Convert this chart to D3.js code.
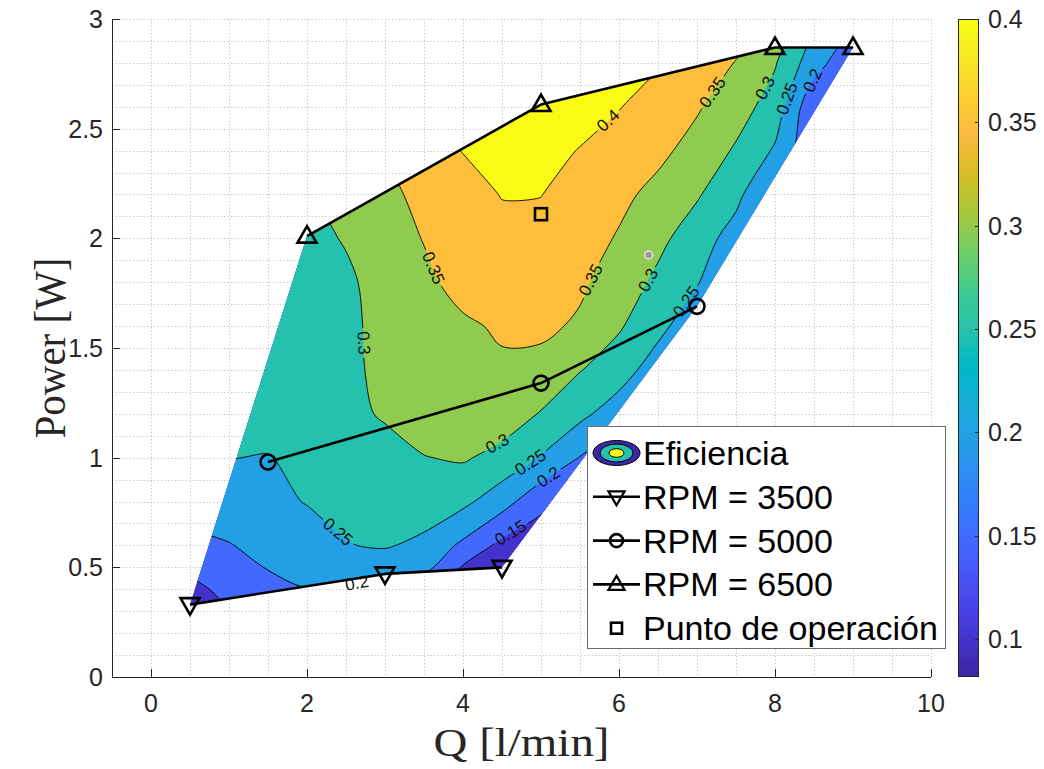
<!DOCTYPE html>
<html>
<head>
<meta charset="utf-8">
<script src="https://cdn.jsdelivr.net/npm/d3@7"></script>
<style>
  body { margin: 0; background: #ffffff; }
  svg { display: block; }
</style>
</head>
<body>
<svg id="chart" width="1044" height="769"></svg>
<script>
// ---------------- data ----------------
// Efficiency sampled on a regular (Q, Power) grid; rows go from low to high power.
const qNodes = [0, 0.5, 1, 1.5, 2, 2.5, 3, 3.5, 4, 4.5, 5, 5.5, 6, 6.5, 7, 7.5, 8, 8.5, 9, 9.5];
const powerNodes = [0.2, 0.4, 0.6, 0.8, 1.0, 1.2, 1.4, 1.6, 1.8, 2.0, 2.2, 2.4, 2.6, 2.8, 3.0];
const efficiencyGrid = [
  [0.09, 0.11, 0.13, 0.148, 0.16, 0.16, 0.15, 0.13, 0.09, 0.08, 0.08, 0.08, 0.08, 0.08, 0.08, 0.08, 0.08, 0.08, 0.08, 0.08],
  [0.11, 0.135, 0.165, 0.19, 0.199, 0.195, 0.182, 0.18, 0.101, 0.09, 0.08, 0.08, 0.08, 0.08, 0.08, 0.08, 0.08, 0.08, 0.08, 0.08],
  [0.17, 0.19, 0.198, 0.213, 0.23, 0.248, 0.255, 0.237, 0.19, 0.136, 0.12, 0.11, 0.098, 0.098, 0.098, 0.098, 0.098, 0.098, 0.098, 0.098],
  [0.205, 0.215, 0.226, 0.239, 0.252, 0.262, 0.272, 0.28, 0.262, 0.2205, 0.163, 0.12, 0.11, 0.105, 0.105, 0.105, 0.105, 0.105, 0.105, 0.105],
  [0.245, 0.248, 0.251, 0.248, 0.262, 0.274, 0.286, 0.2985, 0.305, 0.285, 0.247, 0.198, 0.16, 0.14, 0.13, 0.13, 0.13, 0.13, 0.13, 0.13],
  [0.255, 0.258, 0.263, 0.27, 0.28, 0.29, 0.304, 0.322, 0.33, 0.325, 0.297, 0.263, 0.222, 0.17, 0.14, 0.14, 0.14, 0.14, 0.14, 0.14],
  [0.258, 0.262, 0.267, 0.276, 0.285, 0.293, 0.3075, 0.325, 0.338, 0.343, 0.335, 0.302, 0.275, 0.222, 0.17, 0.155, 0.155, 0.155, 0.155, 0.155],
  [0.26, 0.264, 0.27, 0.278, 0.287, 0.294, 0.308, 0.326, 0.343, 0.356, 0.36, 0.343, 0.305, 0.266, 0.213, 0.17, 0.155, 0.155, 0.155, 0.155],
  [0.262, 0.266, 0.272, 0.28, 0.288, 0.294, 0.3135, 0.34, 0.366, 0.375, 0.372, 0.358, 0.326, 0.29, 0.254, 0.195, 0.16, 0.155, 0.155, 0.155],
  [0.265, 0.27, 0.276, 0.284, 0.29, 0.3025, 0.3275, 0.352, 0.372, 0.385, 0.385, 0.37, 0.346, 0.312, 0.275, 0.228, 0.185, 0.16, 0.155, 0.155],
  [0.268, 0.274, 0.28, 0.288, 0.296, 0.316, 0.34, 0.361, 0.38, 0.402, 0.401, 0.379, 0.361, 0.337, 0.305, 0.264, 0.19, 0.17, 0.16, 0.155],
  [0.27, 0.278, 0.286, 0.295, 0.305, 0.33, 0.352, 0.378, 0.4015, 0.41, 0.408, 0.399, 0.38, 0.361, 0.333, 0.294, 0.244, 0.152, 0.152, 0.152],
  [0.272, 0.28, 0.29, 0.3, 0.31, 0.34, 0.37, 0.399, 0.41, 0.415, 0.415, 0.41, 0.402, 0.379, 0.355, 0.322, 0.278, 0.16, 0.155, 0.152],
  [0.275, 0.285, 0.295, 0.305, 0.32, 0.352, 0.38, 0.405, 0.415, 0.42, 0.42, 0.415, 0.41, 0.404, 0.378, 0.348, 0.304, 0.221, 0.16, 0.155],
  [0.278, 0.29, 0.3, 0.31, 0.33, 0.36, 0.39, 0.41, 0.42, 0.425, 0.425, 0.42, 0.415, 0.41, 0.403, 0.375, 0.328, 0.258, 0.19, 0.17]
];

// Operating curves [Q (l/min), Power (W)]
const rpm3500 = [[0.5, 0.33], [3, 0.47], [4.5, 0.5]];
const rpm5000 = [[1.5, 0.98], [5, 1.34], [7, 1.69]];
const rpm6500 = [[2, 2.01], [5, 2.61], [8, 2.87], [9, 2.87]];
const operatingPoint = [[5, 2.11]];
const cursorPoint = [[6.38, 1.924]];

const contourLevels = [0.1, 0.15, 0.2, 0.25, 0.3, 0.35, 0.4];
// Inline contour labels: level and the approximate place along the curve
const contourLabels = [
  { level: 0.4,  q: 5.89, p: 2.526 },
  { level: 0.35, q: 7.21, p: 2.663 },
  { level: 0.3,  q: 7.92, p: 2.677 },
  { level: 0.25, q: 8.20, p: 2.631 },
  { level: 0.2,  q: 8.55, p: 2.709 },
  { level: 0.35, q: 3.56, p: 1.856 },
  { level: 0.35, q: 5.64, p: 1.810 },
  { level: 0.3,  q: 2.72, p: 1.523 },
  { level: 0.3,  q: 6.37, p: 1.810 },
  { level: 0.25, q: 6.83, p: 1.719 },
  { level: 0.3,  q: 4.45, p: 1.058 },
  { level: 0.25, q: 4.87, p: 0.976 },
  { level: 0.2,  q: 5.12, p: 0.898 },
  { level: 0.15, q: 4.61, p: 0.657 },
  { level: 0.25, q: 2.34, p: 0.638 },
  { level: 0.2,  q: 2.64, p: 0.429 }
];

const xTicks = [0, 2, 4, 6, 8, 10];
const yTicks = [0, 0.5, 1, 1.5, 2, 2.5, 3];
const colorbarTicks = [0.1, 0.15, 0.2, 0.25, 0.3, 0.35, 0.4];
const colorLimits = [0.0816, 0.4];
const legendLabels = ["Eficiencia", "RPM = 3500", "RPM = 5000", "RPM = 6500", "Punto de operación"];
const xLabel = "Q [l/min]";
const yLabel = "Power [W]";

// parula colormap, 64 entries
const parula = [
  "#3e26a8","#402ab4","#422ec0","#4332cb","#4537d5","#463cde","#4741e5","#4747eb",
  "#484df0","#4852f4","#4758f8","#465efb","#4563fd","#4269fe","#3e6fff","#3875fe",
  "#327cfc","#2f81fa","#2e87f7","#2d8cf3","#2b91ef","#2797eb","#259be8","#23a0e5",
  "#20a5e3","#1ca9df","#18addb","#12b1d6","#08b5d0","#01b8ca","#02bac3","#0bbdbd",
  "#19bfb6","#24c1ae","#2cc4a7","#31c69f","#37c897","#3fca8e","#4acb84","#57cc7a",
  "#64cd6f","#72cd64","#81cc59","#8fcb4e","#9dc943","#abc739","#b9c431","#c5c22a",
  "#d1bf27","#dcbd29","#e6bb2d","#f0ba36","#f8ba3d","#febe3c","#fec338","#fec934",
  "#fccf30","#fad62d","#f7dc2a","#f5e327","#f5e924","#f6ef20","#f7f51b","#f9fb15"
];

// ---------------- layout ----------------
const plot = { left: 112, right: 931, top: 19, bottom: 677 };
const SANS = "'Liberation Sans', Arial, Helvetica, sans-serif";
const SERIF = "'Liberation Serif', 'Times New Roman', serif";
const AXIS_COLOR = "#262626";

const x = d3.scaleLinear().domain([-0.5, 10]).range([plot.left, plot.right]);
const y = d3.scaleLinear().domain([0, 3]).range([plot.bottom, plot.top]);
const cbar = { left: 958, width: 21 };
const cy = d3.scaleLinear().domain(colorLimits).range([plot.bottom, plot.top]);

function levelColor(v) {
  const t = (v - colorLimits[0]) / (colorLimits[1] - colorLimits[0]);
  const i = Math.max(0, Math.min(parula.length - 1, Math.floor(t * parula.length)));
  return parula[i];
}

const svg = d3.select("#chart");
const defs = svg.append("defs");

// ---------------- grid ----------------
const gGrid = svg.append("g")
  .attr("stroke", "#c4c4c4").attr("stroke-width", 1).attr("stroke-dasharray", "1.3,2.2");
d3.range(-1, 21).map(i => i / 2).forEach(v => {
  const px = Math.round(x(v)) + 0.5;
  gGrid.append("line").attr("x1", px).attr("x2", px).attr("y1", plot.top).attr("y2", plot.bottom);
});
d3.range(0, 31).map(i => i / 10).forEach(v => {
  const py = Math.round(y(v)) + 0.5;
  gGrid.append("line").attr("x1", plot.left).attr("x2", plot.right).attr("y1", py).attr("y2", py);
});

// ---------------- efficiency map ----------------
// Measured region: bounded by the low-speed curve, the maximum-flow points and the high-speed curve
const domainPoints = [...rpm3500, rpm5000[rpm5000.length - 1], ...rpm6500.slice().reverse()];
const lineXY = d3.line().x(d => x(d[0])).y(d => y(d[1]));
const domainD = lineXY(domainPoints) + "Z";
defs.append("clipPath").attr("id", "domainClip").append("path").attr("d", domainD);

const nx = qNodes.length, ny = powerNodes.length;
const dq = qNodes[1] - qNodes[0], dp = powerNodes[1] - powerNodes[0];
const bands = d3.contours().size([nx, ny]).thresholds(contourLevels)(efficiencyGrid.flat());
const gridToPx = ([cx, cyy]) => [x(qNodes[0] + (cx - 0.5) * dq), y(powerNodes[0] + (cyy - 0.5) * dp)];
const ringLine = d3.line().curve(d3.curveCatmullRomClosed.alpha(0.5));

const ringsByLevel = new Map();
bands.forEach(b => {
  const rings = [];
  b.coordinates.forEach(poly => poly.forEach(ring => rings.push(ring.map(gridToPx))));
  ringsByLevel.set(b.value, rings);
});
const bandPath = value => ringsByLevel.get(value).map(r => ringLine(r.slice(0, -1))).join("");

const gMap = svg.append("g").attr("clip-path", "url(#domainClip)");
gMap.append("path").attr("d", domainD).attr("fill", levelColor(colorLimits[0]));
bands.forEach(b => {
  if (!b.coordinates.length) return;
  gMap.append("path").attr("d", bandPath(b.value))
    .attr("fill", levelColor(b.value)).attr("fill-rule", "evenodd");
});

// gaps in the contour lines behind the inline labels
const mask = defs.append("mask").attr("id", "labelGaps")
  .attr("maskUnits", "userSpaceOnUse").attr("x", 0).attr("y", 0).attr("width", 1044).attr("height", 769);
mask.append("rect").attr("x", 0).attr("y", 0).attr("width", 1044).attr("height", 769).attr("fill", "#fff");

const gLines = gMap.append("g").attr("mask", "url(#labelGaps)");
bands.forEach(b => {
  if (!b.coordinates.length) return;
  gLines.append("path").attr("d", bandPath(b.value))
    .attr("fill", "none").attr("stroke", "#000").attr("stroke-width", 0.9).attr("fill-rule", "evenodd");
});

function nearestOnRings(rings, px, py) {
  let best = null;
  rings.forEach(ring => {
    for (let i = 0; i < ring.length - 1; i++) {
      const [ax, ay] = ring[i], [bx, by] = ring[i + 1];
      const ddx = bx - ax, ddy = by - ay, len2 = ddx * ddx + ddy * ddy;
      if (len2 === 0) continue;
      let t = ((px - ax) * ddx + (py - ay) * ddy) / len2;
      t = Math.max(0, Math.min(1, t));
      const qx = ax + t * ddx, qy = ay + t * ddy;
      const d = (qx - px) ** 2 + (qy - py) ** 2;
      if (!best || d < best.d) best = { d, x: qx, y: qy, angle: Math.atan2(ddy, ddx) * 180 / Math.PI };
    }
  });
  return best;
}

const LABEL_SIZE = 17;
const gLabels = svg.append("g").attr("font-family", SANS).attr("font-size", LABEL_SIZE).attr("fill", "#111");
contourLabels.forEach(lb => {
  const rings = ringsByLevel.get(lb.level);
  if (!rings) return;
  const hit = nearestOnRings(rings, x(lb.q), y(lb.p));
  let a = hit.angle;
  while (a > 90) a -= 180;
  while (a <= -90) a += 180;
  const tf = `translate(${hit.x},${hit.y}) rotate(${a})`;
  const txt = gLabels.append("text").attr("transform", tf)
    .attr("text-anchor", "middle").attr("dominant-baseline", "central")
    .text(String(lb.level));
  const w = txt.node().getComputedTextLength();
  mask.append("rect").attr("transform", tf)
    .attr("x", -w / 2 - 3).attr("y", -LABEL_SIZE * 0.45).attr("width", w + 6).attr("height", LABEL_SIZE * 0.9)
    .attr("fill", "#000");
});

// ---------------- operating curves ----------------
const LINE_W = 2.6;
const triUp = "M0,-10L9.5,6.5L-9.5,6.5Z";
const triDown = "M0,10L9.5,-6.5L-9.5,-6.5Z";
const gCurves = svg.append("g").attr("fill", "none").attr("stroke", "#000").attr("stroke-width", LINE_W);
[rpm3500, rpm5000, rpm6500].forEach(series => {
  gCurves.append("path").attr("d", lineXY(series)).attr("stroke-linejoin", "round");
});
rpm3500.forEach(d => gCurves.append("path").attr("d", triDown).attr("transform", `translate(${x(d[0])},${y(d[1])})`));
rpm5000.forEach(d => gCurves.append("circle").attr("cx", x(d[0])).attr("cy", y(d[1])).attr("r", 7.5));
rpm6500.forEach(d => gCurves.append("path").attr("d", triUp).attr("transform", `translate(${x(d[0])},${y(d[1])})`));
operatingPoint.forEach(d => gCurves.append("rect")
  .attr("x", x(d[0]) - 6).attr("y", y(d[1]) - 6).attr("width", 12).attr("height", 12));
cursorPoint.forEach(d => svg.append("circle").attr("cx", x(d[0])).attr("cy", y(d[1])).attr("r", 4)
  .attr("fill", "#9b9b9b").attr("stroke", "#e6e6e6").attr("stroke-width", 1.5));

// ---------------- axes ----------------
const gAxes = svg.append("g").attr("stroke", AXIS_COLOR).attr("stroke-width", 1).attr("fill", "none");
gAxes.append("line").attr("x1", plot.left + 0.5).attr("x2", plot.left + 0.5).attr("y1", plot.top).attr("y2", plot.bottom + 0.5);
gAxes.append("line").attr("x1", plot.left).attr("x2", plot.right).attr("y1", plot.bottom + 0.5).attr("y2", plot.bottom + 0.5);
yTicks.forEach(v => {
  const py = Math.round(y(v)) + 0.5;
  gAxes.append("line").attr("x1", plot.left).attr("x2", plot.left + 8).attr("y1", py).attr("y2", py);
});
xTicks.forEach(v => {
  const px = Math.round(x(v)) + 0.5;
  gAxes.append("line").attr("x1", px).attr("x2", px).attr("y1", plot.bottom).attr("y2", plot.bottom - 8);
});

const TICK_SIZE = 25;
const gTickText = svg.append("g").attr("font-family", SANS).attr("font-size", TICK_SIZE).attr("fill", AXIS_COLOR);
yTicks.forEach(v => gTickText.append("text").attr("x", plot.left - 9).attr("y", y(v))
  .attr("text-anchor", "end").attr("dominant-baseline", "central").text(String(v)));
xTicks.forEach(v => gTickText.append("text").attr("x", x(v)).attr("y", plot.bottom + 35)
  .attr("text-anchor", "middle").text(String(v)));

svg.append("text").attr("x", (plot.left + plot.right) / 2).attr("y", 756)
  .attr("text-anchor", "middle").attr("font-family", SERIF).attr("font-size", 41).attr("fill", AXIS_COLOR)
  .attr("textLength", 176).attr("lengthAdjust", "spacingAndGlyphs").text(xLabel);
svg.append("text").attr("transform", `translate(65,${(plot.top + plot.bottom) / 2}) rotate(-90)`)
  .attr("text-anchor", "middle").attr("font-family", SERIF).attr("font-size", 44).attr("fill", AXIS_COLOR)
  .attr("textLength", 181).attr("lengthAdjust", "spacingAndGlyphs").text(yLabel);

// ---------------- colorbar ----------------
const grad = defs.append("linearGradient").attr("id", "parulaGrad")
  .attr("x1", 0).attr("y1", 1).attr("x2", 0).attr("y2", 0);
parula.forEach((c, i) => grad.append("stop").attr("offset", (i + 0.5) / parula.length).attr("stop-color", c));
svg.append("rect").attr("x", cbar.left).attr("y", plot.top).attr("width", cbar.width).attr("height", plot.bottom - plot.top)
  .attr("fill", "url(#parulaGrad)");
svg.append("rect").attr("x", cbar.left + 0.5).attr("y", plot.top + 0.5).attr("width", cbar.width - 1).attr("height", plot.bottom - plot.top - 1)
  .attr("fill", "none").attr("stroke", AXIS_COLOR).attr("stroke-width", 1);
colorbarTicks.forEach(v => {
  const py = Math.round(cy(v)) + 0.5;
  svg.append("line").attr("x1", cbar.left + cbar.width - 4).attr("x2", cbar.left + cbar.width).attr("y1", py).attr("y2", py)
    .attr("stroke", AXIS_COLOR).attr("stroke-width", 1);
  svg.append("text").attr("x", cbar.left + cbar.width + 9).attr("y", cy(v))
    .attr("dominant-baseline", "central").attr("font-family", SANS).attr("font-size", TICK_SIZE).attr("fill", AXIS_COLOR)
    .text(String(v));
});

// ---------------- legend ----------------
const lg = svg.append("g");
const lgBox = { x: 587.5, y: 426.5, w: 358, h: 222 };
lg.append("rect").attr("x", lgBox.x).attr("y", lgBox.y).attr("width", lgBox.w).attr("height", lgBox.h)
  .attr("fill", "#fff").attr("stroke", "#6b6b6b").attr("stroke-width", 1);
const rowY = i => 453 + i * 43.8;
const iconX = 616.5;
// contour-map icon
[[23.5, 12.5, levelColor(colorLimits[0])], [16.5, 9, levelColor(0.25)], [7.5, 4.3, levelColor(0.4)]].forEach(([rx, ry, c]) => {
  lg.append("ellipse").attr("cx", iconX).attr("cy", rowY(0)).attr("rx", rx).attr("ry", ry)
    .attr("fill", c).attr("stroke", "#000").attr("stroke-width", 1);
});
const gLegLines = lg.append("g").attr("fill", "none").attr("stroke", "#000").attr("stroke-width", LINE_W);
[1, 2, 3].forEach(i => gLegLines.append("line").attr("x1", 593).attr("x2", 640).attr("y1", rowY(i)).attr("y2", rowY(i)));
gLegLines.append("path").attr("d", triDown).attr("transform", `translate(${iconX},${rowY(1)}) scale(0.85)`);
gLegLines.append("circle").attr("cx", iconX).attr("cy", rowY(2)).attr("r", 6.5);
gLegLines.append("path").attr("d", triUp).attr("transform", `translate(${iconX},${rowY(3)}) scale(0.85)`);
gLegLines.append("rect").attr("x", iconX - 5.5).attr("y", rowY(4) - 5.5).attr("width", 11).attr("height", 11);
legendLabels.forEach((t, i) => lg.append("text").attr("x", 643).attr("y", rowY(i) + 12)
  .attr("font-family", SANS).attr("font-size", 34).attr("fill", "#000").text(t));
</script>
</body>
</html>
